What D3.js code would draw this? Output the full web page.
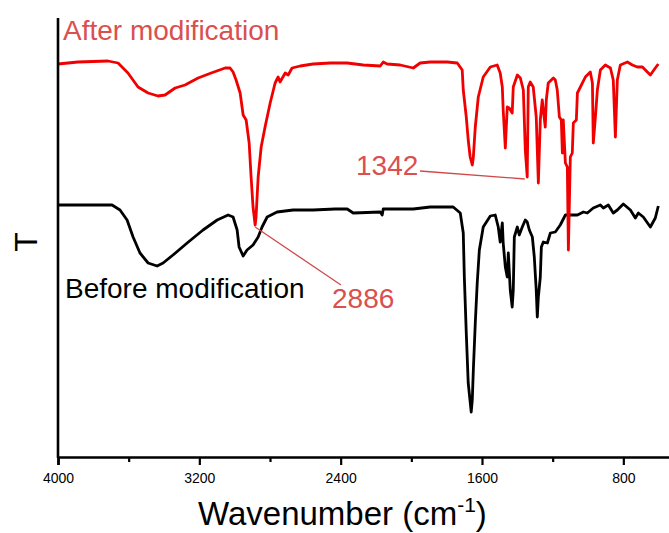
<!DOCTYPE html>
<html>
<head>
<meta charset="utf-8">
<script src="https://cdn.jsdelivr.net/npm/d3@7"></script>
<style>
  body { margin: 0; background: #fff; }
  svg { display: block; font-family: "Liberation Sans", Arial, sans-serif; }
</style>
</head>
<body>
<svg width="669" height="533"></svg>
<script>
// Wavenumber (cm-1) and transmittance (arbitrary units)
var afterWn = [4000, 3887, 3717, 3660, 3604, 3547, 3490, 3434, 3394, 3337, 3281, 3207, 3133, 3054, 3026, 3009, 2992, 2969, 2952, 2935, 2918, 2907, 2896, 2884, 2879, 2867, 2850, 2828, 2799, 2771, 2754, 2743, 2714, 2697, 2675, 2629, 2556, 2459, 2363, 2272, 2176, 2159, 2137, 2063, 1989, 1950, 1893, 1797, 1740, 1712, 1706, 1689, 1678, 1667, 1655, 1649, 1638, 1621, 1593, 1553, 1514, 1497, 1485, 1480, 1468, 1457, 1446, 1429, 1423, 1400, 1383, 1366, 1361, 1355, 1344, 1338, 1327, 1310, 1293, 1281, 1270, 1259, 1242, 1236, 1225, 1196, 1185, 1174, 1162, 1151, 1145, 1140, 1128, 1117, 1111, 1100, 1089, 1083, 1066, 1060, 1043, 1015, 987, 975, 970, 958, 947, 930, 902, 873, 857, 845, 834, 817, 777, 749, 721, 692, 647, 619, 602];
var afterT = [393, 395, 396, 394, 384, 370, 364, 361, 362, 369, 372, 379, 384, 389, 389, 385, 377, 364, 342, 337, 314, 280, 250, 232, 240, 280, 310, 330, 354, 374, 380, 375, 384, 382, 389, 391, 393, 394, 394, 392, 391, 395, 393, 392, 389, 394, 395, 395, 394, 387, 367, 340, 317, 300, 292, 300, 330, 360, 380, 390, 392, 384, 370, 347, 309, 350, 349, 344, 370, 382, 379, 367, 340, 307, 280, 370, 375, 370, 340, 274, 337, 357, 330, 357, 374, 379, 377, 367, 340, 337, 304, 337, 294, 290, 207, 300, 304, 334, 337, 364, 370, 380, 385, 374, 314, 340, 367, 387, 392, 389, 377, 320, 377, 392, 395, 392, 390, 390, 382, 389, 393];

var beforeWn = [4000, 3694, 3649, 3609, 3575, 3536, 3490, 3439, 3405, 3349, 3269, 3179, 3099, 3037, 3009, 2986, 2975, 2952, 2930, 2896, 2867, 2845, 2816, 2760, 2669, 2556, 2431, 2363, 2329, 2176, 2165, 2159, 1989, 1893, 1836, 1763, 1723, 1706, 1700, 1689, 1678, 1661, 1655, 1649, 1638, 1627, 1615, 1593, 1553, 1525, 1508, 1497, 1485, 1480, 1468, 1457, 1451, 1440, 1429, 1423, 1417, 1400, 1389, 1372, 1355, 1344, 1332, 1315, 1304, 1293, 1287, 1281, 1270, 1264, 1253, 1230, 1213, 1185, 1157, 1128, 1100, 1060, 1026, 1004, 970, 930, 913, 885, 857, 834, 800, 760, 732, 715, 687, 647, 619, 602];
var beforeT = [252, 252, 247, 237, 220, 204, 194, 191, 194, 202, 214, 227, 237, 242, 240, 227, 210, 201, 207, 212, 220, 230, 240, 245, 247, 247, 248, 248, 244, 245, 242, 248, 248, 250, 250, 250, 244, 224, 180, 124, 74, 45, 57, 87, 134, 174, 207, 230, 241, 242, 230, 215, 234, 214, 190, 180, 204, 167, 150, 167, 220, 230, 222, 230, 237, 235, 227, 220, 200, 167, 140, 160, 180, 210, 215, 214, 224, 225, 232, 242, 242, 242, 245, 244, 249, 252, 249, 252, 244, 247, 253, 247, 239, 244, 240, 230, 239, 251];

var majorTicks = [4000, 3200, 2400, 1600, 800];
var minorTicks = [3600, 2800, 2000, 1200, 400];

var labels = ["After modification", "Before modification"];

// annotated peaks: label, wavenumber and T of the tip of the leader line
var peakLabels = ["2886", "1342"];
var peakWn = [2884, 1358];
var peakT = [230, 278];

var svg = d3.select("svg");

var x = d3.scaleLinear().domain([4000, 400]).range([58, 694]);
var y = d3.scaleLinear().domain([0, 440]).range([457, 17]);

var line = d3.line()
  .x(function(d) { return x(d[0]); })
  .y(function(d) { return y(d[1]); });

// spectra
svg.append("path")
  .datum(d3.zip(beforeWn, beforeT))
  .attr("d", line)
  .attr("fill", "none")
  .attr("stroke", "#000")
  .attr("stroke-width", 2.8)
  .attr("stroke-linejoin", "round");

svg.append("path")
  .datum(d3.zip(afterWn, afterT))
  .attr("d", line)
  .attr("fill", "none")
  .attr("stroke", "#f00000")
  .attr("stroke-width", 2.8)
  .attr("stroke-linejoin", "round");

// axes
var xAxis = svg.append("g")
  .attr("transform", "translate(0,457)")
  .call(d3.axisBottom(x).tickValues(majorTicks).tickSize(8).tickPadding(8).tickFormat(d3.format("d")));
xAxis.select(".domain").attr("stroke-width", 2.6);
xAxis.selectAll(".tick line").attr("stroke-width", 2.2);
xAxis.selectAll(".tick text").attr("font-size", 14).attr("font-family", "Liberation Sans, Arial, sans-serif");

var xMinor = svg.append("g")
  .attr("transform", "translate(0,457)")
  .call(d3.axisBottom(x).tickValues(minorTicks).tickSize(5).tickFormat(""));
xMinor.select(".domain").remove();
xMinor.selectAll(".tick line").attr("stroke-width", 2.2);

svg.append("line")
  .attr("x1", 58).attr("x2", 58)
  .attr("y1", 18).attr("y2", 458)
  .attr("stroke", "#000")
  .attr("stroke-width", 2.6);

// axis titles
var xt = svg.append("text")
  .attr("x", 198).attr("y", 525)
  .attr("font-size", 33)
  .attr("fill", "#000");
xt.append("tspan").text("Wavenumber (cm");
xt.append("tspan").attr("font-size", 21).attr("dy", -13).text("-1");
xt.append("tspan").attr("dy", 13).text(")");

svg.append("text")
  .attr("transform", "translate(37,242) rotate(-90)")
  .attr("text-anchor", "middle")
  .attr("font-size", 32)
  .text("T");

// series labels
svg.append("text")
  .attr("x", 63).attr("y", 40)
  .attr("font-size", 28)
  .attr("fill", "#d9504f")
  .text(labels[0]);

svg.append("text")
  .attr("x", 65).attr("y", 298)
  .attr("font-size", 28)
  .attr("fill", "#000")
  .text(labels[1]);

// peak annotations
var labelPos = [[332, 308, 341, 285], [356, 175, 420, 171]];
peakLabels.forEach(function(t, i) {
  svg.append("line")
    .attr("x1", x(peakWn[i])).attr("y1", y(peakT[i]))
    .attr("x2", labelPos[i][2]).attr("y2", labelPos[i][3])
    .attr("stroke", "#d04a4a")
    .attr("stroke-width", 1.3);
  svg.append("text")
    .attr("x", labelPos[i][0]).attr("y", labelPos[i][1])
    .attr("font-size", 28)
    .attr("fill", "#d9504f")
    .text(t);
});
</script>
</body>
</html>
